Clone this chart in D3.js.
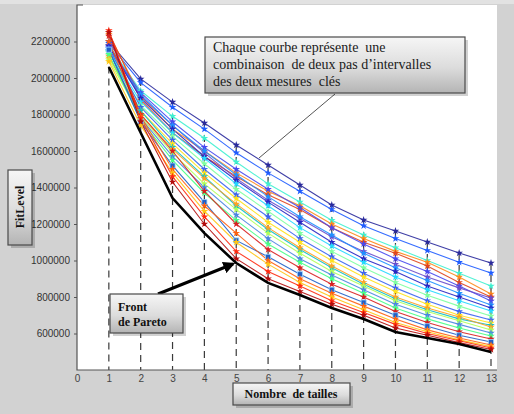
<!doctype html>
<html lang="fr">

<head>
  <title>Front de Pareto</title>
  <meta charset="utf-8" />
  <script src="https://cdn.jsdelivr.net/npm/d3@7"></script>
  <style>
    body { margin: 0; background: #d2d2d2; }
    svg { display: block; }
  </style>
  <script>
    // number of sizes (x axis)
    const tailles = [1, 2, 3, 4, 5, 6, 7, 8, 9, 10, 11, 12, 13];
    const xTicks = [0, 1, 2, 3, 4, 5, 6, 7, 8, 9, 10, 11, 12, 13];
    const yTicks = [600000, 800000, 1000000, 1200000, 1400000, 1600000, 1800000, 2000000, 2200000];

    // each curve: one combination of the two interval steps
    const courbe01 = [2200000, 1995000, 1868000, 1753000, 1633000, 1523000, 1414000, 1304000, 1222000, 1162000, 1101000, 1041000, 986000];
    const courbe02 = [2190000, 1975000, 1840000, 1720000, 1590000, 1480000, 1380000, 1280000, 1190000, 1120000, 1055000, 990000, 932000];
    const courbe03 = [2180000, 1930000, 1790000, 1670000, 1540000, 1420000, 1320000, 1220000, 1140000, 1070000, 1000000, 930000, 860000];
    const courbe04 = [2240000, 1900000, 1720000, 1600000, 1480000, 1380000, 1300000, 1200000, 1120000, 1050000, 990000, 910000, 816000];
    const courbe05 = [2250000, 1880000, 1700000, 1570000, 1460000, 1360000, 1280000, 1180000, 1100000, 1040000, 970000, 880000, 800000];
    const courbe06 = [2170000, 1920000, 1760000, 1620000, 1500000, 1390000, 1290000, 1180000, 1090000, 1010000, 940000, 860000, 778000];
    const courbe07 = [2180000, 1900000, 1740000, 1590000, 1450000, 1330000, 1230000, 1130000, 1050000, 980000, 910000, 850000, 795000];
    const courbe08 = [2160000, 1910000, 1740000, 1600000, 1470000, 1350000, 1240000, 1140000, 1040000, 960000, 890000, 820000, 756000];
    const courbe09 = [2175000, 1890000, 1720000, 1570000, 1440000, 1320000, 1210000, 1100000, 1010000, 940000, 860000, 800000, 740000];
    const courbe10 = [2150000, 1870000, 1700000, 1560000, 1420000, 1300000, 1180000, 1080000, 990000, 910000, 840000, 780000, 723000];
    const courbe11 = [2140000, 1850000, 1680000, 1530000, 1390000, 1270000, 1150000, 1050000, 960000, 880000, 810000, 750000, 696000];
    const courbe12 = [2165000, 1840000, 1660000, 1500000, 1360000, 1240000, 1120000, 1020000, 930000, 850000, 780000, 720000, 674000];
    const courbe13 = [2110000, 1820000, 1640000, 1480000, 1340000, 1210000, 1100000, 1000000, 910000, 830000, 760000, 700000, 658000];
    const courbe14 = [2145000, 1820000, 1620000, 1460000, 1300000, 1170000, 1060000, 960000, 870000, 790000, 730000, 680000, 645000];
    const courbe15 = [2120000, 1800000, 1610000, 1450000, 1310000, 1180000, 1070000, 970000, 880000, 800000, 740000, 690000, 636000];
    const courbe16 = [2100000, 1790000, 1590000, 1420000, 1280000, 1150000, 1040000, 940000, 860000, 780000, 720000, 670000, 619000];
    const courbe17 = [2150000, 1780000, 1570000, 1400000, 1250000, 1120000, 1010000, 920000, 840000, 760000, 700000, 650000, 603000];
    const courbe18 = [2130000, 1770000, 1550000, 1370000, 1220000, 1090000, 990000, 900000, 820000, 740000, 680000, 630000, 586000];
    const courbe19 = [2230000, 1800000, 1600000, 1380000, 1200000, 1060000, 960000, 870000, 800000, 720000, 660000, 610000, 570000];
    const courbe20 = [2155000, 1760000, 1520000, 1320000, 1110000, 1020000, 925000, 840000, 770000, 700000, 640000, 590000, 553000];
    const courbe21 = [2200000, 1790000, 1500000, 1300000, 1150000, 1000000, 900000, 820000, 750000, 680000, 620000, 575000, 537000];
    const courbe22 = [2090000, 1740000, 1480000, 1270000, 1100000, 980000, 880000, 800000, 730000, 660000, 610000, 565000, 528000];
    const courbe23 = [2260000, 1780000, 1460000, 1240000, 1050000, 940000, 860000, 780000, 715000, 650000, 600000, 560000, 521000];
    const courbe24 = [2250000, 1760000, 1430000, 1200000, 1010000, 900000, 830000, 760000, 700000, 630000, 590000, 550000, 512000];
    const courbes = [courbe01, courbe02, courbe03, courbe04, courbe05, courbe06, courbe07, courbe08,
      courbe09, courbe10, courbe11, courbe12, courbe13, courbe14, courbe15, courbe16,
      courbe17, courbe18, courbe19, courbe20, courbe21, courbe22, courbe23, courbe24];

    // lower envelope (Pareto front)
    const frontPareto = [2060000, 1700000, 1342000, 1150000, 986000, 877000, 811000, 740000, 679000, 608000, 575000, 542000, 499000];

    // styling of the curves (jet-like colours), kept apart from the data
    const couleurs = ["#2a2a9c", "#1f5cff", "#3ff0d0", "#ff8a1a", "#e0461e", "#4848ee", "#6a4ccc", "#1e90ff",
      "#2626c4", "#22d8ff", "#7dffa0", "#3a64f0", "#ffe11a", "#10c0c8", "#ffa020", "#b0ff58",
      "#4a86e0", "#46ff86", "#d82020", "#2060c8", "#ff6010", "#ffc414", "#ff2a10", "#b40c0c"];
    const carres = [19];

    window.onload = () => {
      const w = 514;
      const h = 414;
      const svg = d3.select("#chart").append("svg").attr("width", w).attr("height", h);

      const defs = svg.append("defs");
      const grad = defs.append("linearGradient").attr("id", "boite").attr("x1", 0).attr("y1", 0).attr("x2", 0).attr("y2", 1);
      grad.append("stop").attr("offset", "0%").attr("stop-color", "#f6f6f6");
      grad.append("stop").attr("offset", "55%").attr("stop-color", "#dcdcdc");
      grad.append("stop").attr("offset", "100%").attr("stop-color", "#b4b4b4");
      defs.append("marker").attr("id", "fleche").attr("viewBox", "0 0 10 10")
        .attr("refX", 8).attr("refY", 5).attr("markerWidth", 4).attr("markerHeight", 4)
        .attr("orient", "auto")
        .append("path").attr("d", "M0,0 L10,5 L0,10 z").attr("fill", "#000");

      // outer background
      svg.append("rect").attr("width", w).attr("height", h).attr("fill", "#d2d2d2");
      svg.append("rect").attr("width", w).attr("height", 4).attr("fill", "#e2e2e2");

      const left = 77, right = 497, top = 5, bottom = 370;
      const x = d3.scaleLinear().domain([0, 13]).range([left, 491]);
      const y = d3.scaleLinear().domain([400000, 2400000]).range([bottom, top]);

      svg.append("rect").attr("x", left).attr("y", top).attr("width", right - left).attr("height", bottom - top)
        .attr("fill", "#fff");

      // dashed verticals at every size
      svg.append("g").selectAll("line").data(tailles).enter().append("line")
        .attr("x1", d => x(d)).attr("x2", d => x(d))
        .attr("y1", (d, i) => y(d3.max(courbes, c => c[i])))
        .attr("y2", bottom)
        .attr("stroke", "#3a3a3a").attr("stroke-width", 1.2).attr("stroke-dasharray", "7,5");

      const line = d3.line().x((d, i) => x(tailles[i])).y(d => y(d));

      const g = svg.append("g");
      courbes.forEach((c, k) => {
        g.append("path").datum(c).attr("d", line)
          .attr("fill", "none").attr("stroke", couleurs[k]).attr("stroke-width", 1.1).attr("opacity", 0.9);
      });
      const star = d3.symbol().type(d3.symbolStar).size(18);
      const square = d3.symbol().type(d3.symbolSquare).size(26);
      courbes.forEach((c, k) => {
        const isSq = carres.includes(k);
        g.append("g").selectAll("path").data(c).enter().append("path")
          .attr("transform", (d, i) => "translate(" + x(tailles[i]) + "," + y(d) + ")")
          .attr("d", isSq ? square : star)
          .attr("fill", couleurs[k])
          .attr("stroke", isSq ? "#9fd8ff" : "none").attr("stroke-width", 0.8);
      });

      // Pareto front
      svg.append("path").datum(frontPareto).attr("d", line)
        .attr("fill", "none").attr("stroke", "#000").attr("stroke-width", 2.6);

      // axes
      const sans = "'Liberation Sans', Arial, sans-serif";
      const yAxis = svg.append("g").attr("transform", "translate(" + left + ",0)")
        .call(d3.axisLeft(y).tickValues(yTicks).tickSize(3).tickPadding(4).tickFormat(d3.format("d")));
      yAxis.select(".domain").remove();
      yAxis.selectAll("line").attr("stroke", "#555");
      yAxis.selectAll("text").attr("fill", "#333").style("font-family", sans).style("font-size", "10px");
      svg.append("path").attr("d", "M" + (left + 6) + "," + top + "H" + left + "V" + bottom + "H" + right)
        .attr("fill", "none").attr("stroke", "#555").attr("stroke-width", 1.2);

      const xAxis = svg.append("g").attr("transform", "translate(0," + bottom + ")")
        .call(d3.axisBottom(x).tickValues(xTicks).tickSize(0).tickPadding(5).tickFormat(d3.format("d")));
      xAxis.select(".domain").remove();
      xAxis.selectAll("text").attr("fill", "#444").style("font-family", sans).style("font-size", "10px");

      const serif = "'Liberation Serif', 'Times New Roman', serif";

      // annotation box
      const box = (bx, by, bw, bh) => {
        svg.append("rect").attr("x", bx + 3).attr("y", by + 3).attr("width", bw).attr("height", bh)
          .attr("fill", "#000").attr("opacity", 0.18);
        svg.append("rect").attr("x", bx).attr("y", by).attr("width", bw).attr("height", bh)
          .attr("fill", "url(#boite)").attr("stroke", "#4a4a4a").attr("stroke-width", 1.2);
      };

      svg.append("line").attr("x1", 335).attr("y1", 94).attr("x2", 259).attr("y2", 158)
        .attr("stroke", "#555").attr("stroke-width", 1);
      box(205, 37, 260, 56);
      const note = svg.append("text").attr("x", 213).attr("y", 52).attr("fill", "#1a1a1a")
        .style("font-family", serif).style("font-size", "14px");
      ["Chaque courbe représente  une", "combinaison  de deux pas d\u2019intervalles", "des deux mesures  clés"]
        .forEach((t, i) => note.append("tspan").attr("x", 213).attr("dy", i ? 17 : 0).attr("xml:space", "preserve").text(t));

      // Pareto label + arrow
      svg.append("line").attr("x1", 158).attr("y1", 294).attr("x2", 233).attr("y2", 264)
        .attr("stroke", "#000").attr("stroke-width", 3).attr("marker-end", "url(#fleche)");
      box(110, 294, 73, 39);
      const pf = svg.append("text").attr("fill", "#111").style("font-family", serif)
        .style("font-size", "12px").style("font-weight", "bold");
      pf.append("tspan").attr("x", 118).attr("y", 311).text("Front");
      pf.append("tspan").attr("x", 118).attr("y", 326).text("de Pareto");

      // axis titles
      box(233, 383, 117, 22);
      svg.append("text").attr("x", 291).attr("y", 398).attr("text-anchor", "middle").attr("fill", "#111")
        .attr("xml:space", "preserve")
        .style("font-family", serif).style("font-size", "12px").style("font-weight", "bold")
        .text("Nombre  de tailles");
      box(8, 170, 24, 75);
      svg.append("text").attr("transform", "translate(24,207) rotate(-90)").attr("text-anchor", "middle")
        .attr("fill", "#111").style("font-family", serif).style("font-size", "12px").style("font-weight", "bold")
        .text("FitLevel");
    }
  </script>
</head>

<body>
  <div id="chart"></div>
</body></html>
